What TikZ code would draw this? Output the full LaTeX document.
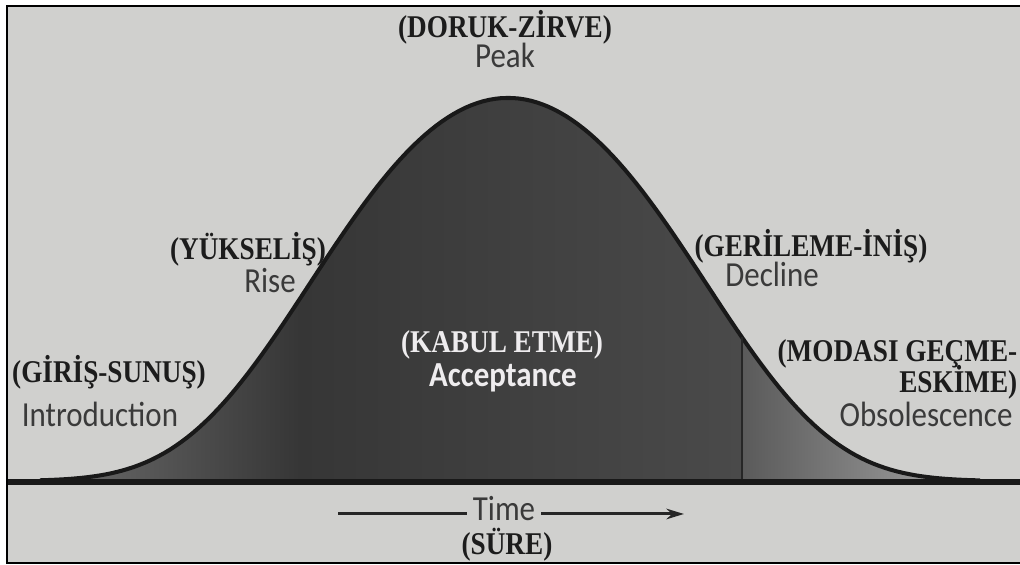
\documentclass[tikz,border=0pt]{standalone}
\usepackage{fontspec}
\setmainfont{Liberation Serif}
\newfontfamily\trfont[FakeStretch=0.86]{Liberation Serif}
\newfontfamily\enfont[FakeStretch=0.88]{Carlito}
\usetikzlibrary{arrows.meta}

\definecolor{paper}{RGB}{208,208,206}
\definecolor{bodygray}{RGB}{54,54,54}
\definecolor{edgegray}{RGB}{74,74,74}
\definecolor{tailgray}{RGB}{110,110,110}
\definecolor{fadegray}{RGB}{90,90,90}
\definecolor{palegray}{RGB}{168,168,168}
\definecolor{inkgray}{RGB}{58,58,58}
\definecolor{trink}{RGB}{28,28,28}
\definecolor{offwhite}{RGB}{238,236,238}

\tikzset{
  trlabel/.style={font=\trfont\bfseries\fontsize{9}{10}\selectfont,text=trink,anchor=base,inner sep=0pt},
  enlabel/.style={font=\enfont\fontsize{10}{11}\selectfont,text=inkgray,anchor=base,inner sep=0pt},
  declare function={bell(\x)=481-383*exp(-0.1426*((\x-508)/100)*((\x-508)/100)-0.00669*((\x-508)/100)*((\x-508)/100)*((\x-508)/100)*((\x-508)/100));}
}

\begin{document}
\begin{tikzpicture}[x=0.01cm,y=-0.01cm,>=Stealth]
  \useasboundingbox (0,0) rectangle (1020,565);
  \fill[white] (0,0) rectangle (1020,565);
  \fill[paper] (7,6) rectangle (1020,563);

  % area under the life cycle curve
  \begin{scope}
    \clip plot[domain=40:980,samples=160] (\x,{bell(\x)}) -- cycle;
    \shade[left color=tailgray,right color=bodygray] (40,90) rectangle (300,485);
    \shade[left color=bodygray,right color=edgegray] (300,90) rectangle (742,485);
    \shade[left color=fadegray,right color=palegray] (742,90) rectangle (980,485);
  \end{scope}
  \draw[line width=1.15pt,black!90,line join=round] plot[domain=40:980,samples=160] (\x,{bell(\x)});

  \coordinate (split) at (742,481);
  \coordinate (splittop) at (742,{bell(742)});
  \draw[line width=0.6pt,black!85] (split) -- (splittop);

  \coordinate (axisL) at (7,482);
  \coordinate (axisR) at (1020,482);
  \draw[line width=1.5pt,black!90] (axisL) -- (axisR);

  % frame
  \draw[line width=0.7pt] (1020,6) -- (7,6) -- (7,563) -- (1020,563);

  % stage labels
  \node[trlabel] (doruk) at (505,38) {(DORUK-ZİRVE)};
  \node[enlabel] (peak) at (505,68) {Peak};
  \node[trlabel] (yukselis) at (248,260) {(YÜKSELİŞ)};
  \node[enlabel] (rise) at (270,293) {Rise};
  \node[trlabel] (gerileme) at (811,257) {(GERİLEME-İNİŞ)};
  \node[enlabel] (decline) at (772,287) {Decline};
  \node[trlabel,text=offwhite] (kabul) at (502,353) {(KABUL ETME)};
  \node[enlabel,text=offwhite,font=\enfont\bfseries\fontsize{10}{11}\selectfont] (accept) at (503,387) {Acceptance};
  \node[trlabel] (giris) at (109,383) {(GİRİŞ-SUNUŞ)};
  \node[enlabel] (intro) at (100,427) {Introduction};
  \node[trlabel,anchor=base east] (modasi) at (1018,362) {(MODASI GEÇME-};
  \node[trlabel,anchor=base east] (eskime) at (1018,393) {ESKİME)};
  \node[enlabel] (obsol) at (926,427) {Obsolescence};

  % time axis
  \node[enlabel,inner xsep=1.6pt] (time) at (504,521) {Time};
  \node[trlabel] (sure) at (507,555) {(SÜRE)};
  \coordinate (tstart) at (338,514);
  \coordinate (tend) at (684,514);
  \draw[line width=0.85pt,black!85] (tstart) -- (tstart -| time.west);
  \draw[line width=0.85pt,black!85,-{Stealth[length=5pt,width=3pt]}] (tend -| time.east) -- (tend);
\end{tikzpicture}
\end{document}
